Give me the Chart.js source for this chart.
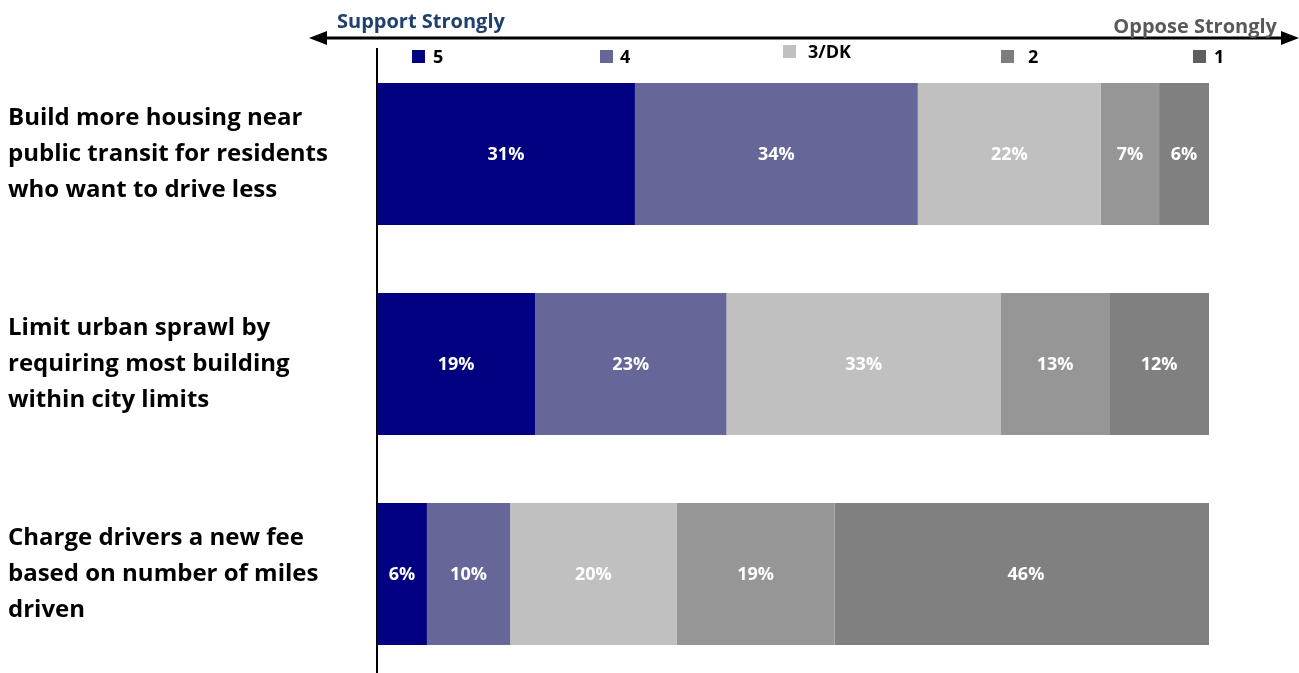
<!DOCTYPE html>
<html>
<head>
<meta charset="utf-8">
<script src="https://cdn.jsdelivr.net/npm/chart.js@4"></script>
<style>
  html, body { margin: 0; padding: 0; overflow: hidden; background: #ffffff; }
  #c { display: block; width: 1299px; height: 690px; }
</style>
</head>
<body>
<canvas id="c" width="1299" height="690"></canvas>
<script>
// Survey items (multi-line labels)
const categories = [
  ['Build more housing near', 'public transit for residents', 'who want to drive less'],
  ['Limit urban sprawl by', 'requiring most building', 'within city limits'],
  ['Charge drivers a new fee', 'based on number of miles', 'driven']
];

// Response scale, 5 = support strongly ... 1 = oppose strongly
const seriesNames = ['5', '4', '3/DK', '2', '1'];
const s5  = [31, 19, 6];
const s4  = [34, 23, 10];
const s3  = [22, 33, 20];
const s2  = [7, 13, 19];
const s1  = [6, 12, 46];
const seriesValues = [s5, s4, s3, s2, s1];

const barColors    = ['#000080', '#666699', '#C0C0C0', '#969696', '#808080'];
const legendColors = ['#000080', '#666699', '#C0C0C0', '#7F7C7C', '#5F5F5F'];

const FONT = '"Open Sans", Lato, sans-serif';

// white percentage labels centred in each segment
const segmentLabels = {
  id: 'segmentLabels',
  afterDatasetsDraw(chart) {
    const ctx = chart.ctx;
    ctx.save();
    ctx.fillStyle = '#ffffff';
    ctx.font = 'bold 18px ' + FONT;
    ctx.textAlign = 'center';
    ctx.textBaseline = 'middle';
    chart.data.datasets.forEach((ds, di) => {
      const meta = chart.getDatasetMeta(di);
      meta.data.forEach((el, i) => {
        const p = el.getCenterPoint();
        ctx.fillText(ds.data[i] + '%', p.x, p.y + 1);
      });
    });
    ctx.restore();
  }
};

// double-headed scale arrow, its end captions, and the legend row
const header = {
  id: 'header',
  afterDraw(chart) {
    const ctx = chart.ctx;
    ctx.save();
    ctx.strokeStyle = '#000000';
    ctx.lineWidth = 3;
    ctx.beginPath();
    ctx.moveTo(322, 38);
    ctx.lineTo(1286, 38);
    ctx.stroke();
    ctx.fillStyle = '#000000';
    ctx.beginPath();
    ctx.moveTo(309, 38); ctx.lineTo(327, 31); ctx.lineTo(327, 45); ctx.closePath(); ctx.fill();
    ctx.beginPath();
    ctx.moveTo(1299, 38); ctx.lineTo(1281, 31); ctx.lineTo(1281, 45); ctx.closePath(); ctx.fill();

    ctx.font = 'bold 20px ' + FONT;
    ctx.textBaseline = 'alphabetic';
    ctx.textAlign = 'left';
    ctx.fillStyle = '#1F3F6E';
    ctx.fillText('Support Strongly', 337, 28);
    ctx.textAlign = 'right';
    ctx.fillStyle = '#595959';
    ctx.fillText('Oppose Strongly', 1277, 33);

    // legend
    const swatchX = [412, 600, 783, 1001, 1193];
    const swatchY = [50, 50, 45, 50, 50];
    const textX   = [433, 620, 808, 1028, 1214];
    ctx.font = 'bold 18px ' + FONT;
    ctx.textAlign = 'left';
    ctx.textBaseline = 'middle';
    seriesNames.forEach((name, i) => {
      ctx.fillStyle = legendColors[i];
      ctx.fillRect(swatchX[i], swatchY[i], 13, 13);
      ctx.fillStyle = '#000000';
      ctx.fillText(name, textX[i], swatchY[i] + 8);
    });
    ctx.restore();
  }
};

new Chart(document.getElementById('c'), {
  type: 'bar',
  data: {
    labels: categories,
    datasets: seriesNames.map((name, i) => ({
      label: name,
      data: seriesValues[i],
      backgroundColor: barColors[i],
      borderWidth: 0,
      barPercentage: 1,
      categoryPercentage: 0.676
    }))
  },
  options: {
    indexAxis: 'y',
    responsive: false,
    animation: false,
    devicePixelRatio: 1,
    layout: { padding: { top: 49, bottom: 11, left: 8, right: 90 } },
    plugins: {
      legend: { display: false },
      tooltip: { enabled: false }
    },
    scales: {
      x: {
        stacked: true,
        min: 0,
        max: 100,
        display: false
      },
      y: {
        stacked: true,
        grid: { display: false, drawTicks: false },
        border: { display: true, color: '#000000', width: 2 },
        ticks: {
          crossAlign: 'far',
          color: '#000000',
          padding: 0,
          font: { family: FONT, size: 24, weight: 'bold', lineHeight: 1.5 }
        },
        afterFit(scale) {
          scale.width = 369;
          scale.paddingTop = 0;
          scale.paddingBottom = 0;
        }
      }
    }
  },
  plugins: [segmentLabels, header]
});
</script>
</body>
</html>
